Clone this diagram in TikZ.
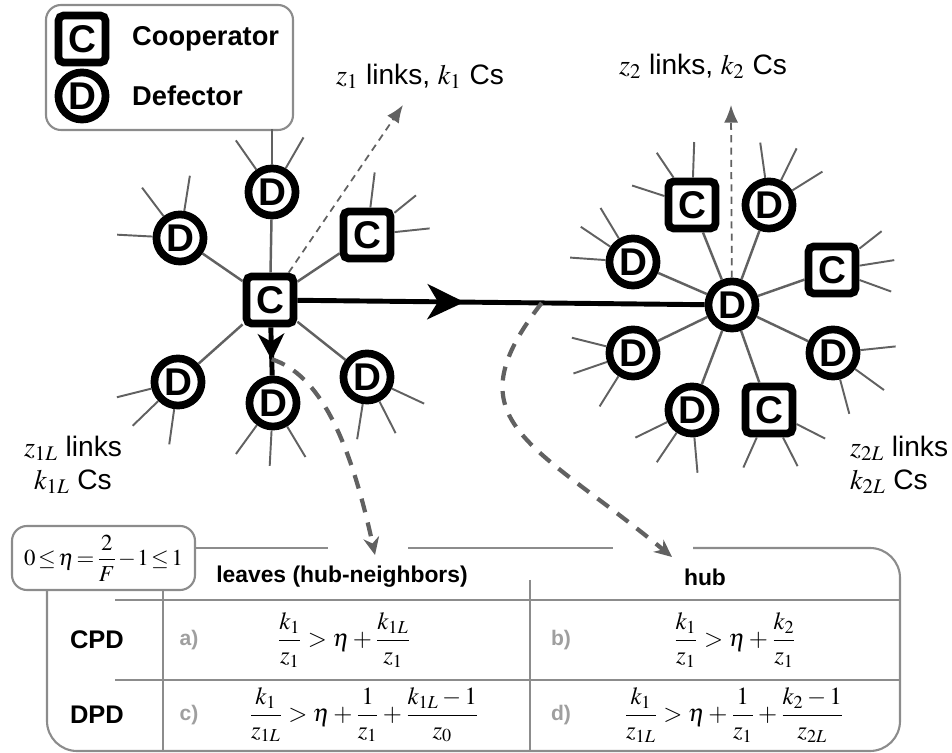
\documentclass[tikz,border=0pt]{standalone}
\usepackage{amsmath}
\usepackage{mathptmx}
\usepackage[no-math]{fontspec}
\setmainfont{Liberation Sans}
\usetikzlibrary{arrows.meta,decorations.markings}

\definecolor{spokegray}{gray}{0.38}
\definecolor{framegray}{gray}{0.55}

\begin{document}
\begin{tikzpicture}[x=0.2mm,y=0.2mm,
    cnode/.style={draw,line width=4.4pt,rounded corners=3pt,fill=white,minimum size=26.8pt,
      inner sep=0pt,font=\bfseries\fontsize{22}{22}\selectfont},
    dnode/.style={cnode,circle},
    stub/.style={spokegray,line width=1.1pt},
    spoke/.style={spokegray,line width=1.4pt},
    frame/.style={framegray,line width=1.2pt},
    thinflow/.style={spokegray,line width=1pt,dash pattern=on 4pt off 3pt,-{Latex[length=10pt,width=8pt]}},
    thickflow/.style={spokegray,line width=2.4pt,dash pattern=on 8pt off 6pt,
      -{Stealth[length=10pt,width=9pt]}},
    legtext/.style={font=\bfseries\fontsize{15.5}{18}\selectfont},
    note/.style={font=\fontsize{16}{19}\selectfont},
    head/.style={font=\bfseries\fontsize{13}{15}\selectfont},
    rowhead/.style={font=\bfseries\fontsize{14.5}{16}\selectfont},
    tag/.style={text=gray!75,font=\bfseries\fontsize{12}{14}\selectfont},
    eq/.style={font=\fontsize{14}{16}\selectfont}]
    \useasboundingbox (0,0) rectangle (952,753);

    % legend
    \draw[frame,rounded corners=3mm] (46,623) rectangle (293,748);
    \node[cnode] (legc) at (82,714) {C};
    \node[dnode] (legd) at (82,657) {D};
    \node[legtext,anchor=west] (legct) at (126,714) {Cooperator};
    \node[legtext,anchor=west] (legdt) at (126,657) {Defector};

    % left star, cooperator hub
    \node[cnode] (hubc) at (270,453) {C};
    \node[dnode] (a1) at (272,561) {D};
    \node[dnode] (a2) at (180,515) {D};
    \node[cnode] (a3) at (367,518) {C};
    \node[dnode] (a4) at (178,371) {D};
    \node[dnode] (a5) at (273,350) {D};
    \node[dnode] (a6) at (367,376) {D};
    \foreach \n in {a1,a2,a3,a4,a6}
        \draw[spoke] (hubc) -- (\n);

    % right star, defector hub
    \node[dnode] (hubd) at (732,448) {D};
    \node[cnode] (b1) at (692,548) {C};
    \node[dnode] (b2) at (769,548) {D};
    \node[dnode] (b3) at (633,491) {D};
    \node[cnode] (b4) at (832,483) {C};
    \node[dnode] (b5) at (633,400) {D};
    \node[dnode] (b6) at (833,400) {D};
    \node[dnode] (b7) at (692,343) {D};
    \node[cnode] (b8) at (769,343) {C};
    \foreach \n in {b1,b2,b3,b4,b5,b6,b7,b8}
        \draw[spoke] (hubd) -- (\n);

    % outer links of the leaves
    \foreach \n/\a/\b/\c in {a1/125/90/60, a2/127/81/177, a3/83/39/6,
        a4/194/224/262, a5/234/267/301, a6/335/297/261,
        b1/124/88/162, b2/98/64/32, b3/146/121/176, b4/38/9/340,
        b5/166/199/238, b6/6/324/285, b7/206/236/275, b8/246/297/333}
        \foreach \t in {\a,\b,\c}
            \draw[stub] (\n) -- ++(\t:63);

    % links counted per node
    \coordinate (up1) at (403,648);
    \coordinate (up2) at (731,648);
    \draw[thinflow] (hubc) -- (up1);
    \draw[thinflow] (hubd) -- (up2);
    \node[note] (z1) at (420,677) {$z_1$ links, $k_1$ Cs};
    \node[note] (z2) at (703,687) {$z_2$ links, $k_2$ Cs};
    \node[note,align=center] (z1l) at (73,288) {$z_{1L}$ links\\$k_{1L}$ Cs};
    \node[note,align=left,anchor=west] (z2l) at (844,288) {$z_{2L}$ links\\$k_{2L}$ Cs};

    % strategy passing
    \draw[line width=2.8pt,postaction={decorate},decoration={markings,
        mark=at position 0.41 with {\arrow{Stealth[length=21pt,width=20pt,inset=6pt]}}}]
        (hubc) -- (hubd) coordinate[pos=0.6] (split2);
    \draw[line width=2.8pt,postaction={decorate},decoration={markings,
        mark=at position 0.68 with {\arrow{Stealth[length=15pt,width=15pt,inset=4.5pt]}}}]
        (hubc) -- (a5) coordinate[pos=0.66] (split1);

    % conditions table
    \node[draw=framegray,line width=1.2pt,rounded corners=3mm,minimum width=36.6mm,
        minimum height=12.8mm,inner sep=0pt,font=\fontsize{13}{15}\selectfont] (eta) at (103.5,195)
        {$\thickmuskip=2mu\medmuskip=1mu 0\le\eta=\dfrac{2}{F}-1\le1$};
    \draw[frame] (195,205) -- (328,205);
    \draw[frame] (408,205) -- (613,205);
    \draw[frame,rounded corners=6mm] (693,205) -- (900,205) -- (900,2) -- (47,2) -- (47,163);
    \draw[frame] (163,163) -- (163,2);
    \draw[frame] (530,173) -- (530,2);
    \draw[frame] (115,153) -- (900,153);
    \draw[frame] (115,73) -- (900,73);

    \coordinate (leafend) at (375,198);
    \coordinate (hubend) at (672,196);
    \draw[thickflow] (split1) .. controls (320,378) and (350,313) .. (leafend);
    \draw[thickflow] (split2) .. controls (449,331) and (533,311) .. (hubend);

    \node[head] (hleaf) at (342,176) {leaves (hub-neighbors)};
    \node[head] (hhub) at (705,176) {hub};
    \node[rowhead] (cpd) at (97,113) {CPD};
    \node[rowhead] (dpd) at (97,38) {DPD};
    \node[tag] (ta) at (189,113) {a)};
    \node[tag] (tc) at (189,38) {c)};
    \node[tag] (tb) at (561,113) {b)};
    \node[tag] (td) at (561,38) {d)};
    \node[eq] (fa) at (344,113) {$\dfrac{k_1}{z_1}>\eta+\dfrac{k_{1L}}{z_1}$};
    \node[eq] (fb) at (735,113) {$\dfrac{k_1}{z_1}>\eta+\dfrac{k_2}{z_1}$};
    \node[eq] (fc) at (364,38) {$\dfrac{k_1}{z_{1L}}>\eta+\dfrac{1}{z_1}+\dfrac{k_{1L}-1}{z_0}$};
    \node[eq] (fd) at (734,38) {$\dfrac{k_1}{z_{1L}}>\eta+\dfrac{1}{z_1}+\dfrac{k_2-1}{z_{2L}}$};
\end{tikzpicture}
\end{document}
